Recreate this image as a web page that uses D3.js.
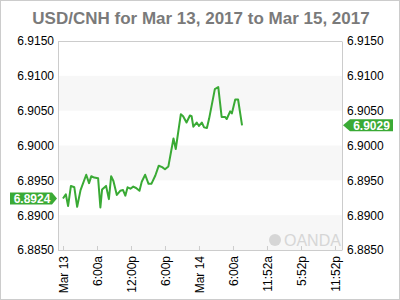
<!DOCTYPE html>
<html lang="en">
<head>
<meta charset="UTF-8">
<title>USD/CNH</title>
<script src="https://d3js.org/d3.v7.min.js"></script>
<style>
  body { margin: 0; background: #fff; }
  text { font-family: 'Liberation Sans', Arial, sans-serif; }
</style>
</head>
<body>
<script>
  const width = 400;
  const height = 300;

  // hours since Mar 13 00:00
  const hours = [0, 0.5, 0.9, 1.4, 2.0, 2.5, 3.1, 4.1, 4.6, 5.0, 5.5, 6.2, 6.6, 6.9, 7.6, 8.1, 8.5, 8.9,
                 9.5, 10.1, 10.6, 11.0, 11.4, 11.9, 12.4, 12.9, 13.5, 13.9, 14.5, 15.1, 15.6, 16.3, 16.9,
                 17.5, 18.0, 18.6, 19.5, 19.9, 20.8, 21.2, 21.8, 22.4, 22.7, 23.0, 23.6, 24.0, 24.5, 24.9,
                 25.4, 25.8, 26.8, 27.4, 28.0, 28.6, 28.9, 29.5, 29.8, 30.4, 30.9, 31.6];
  const prices = [6.8924, 6.8930, 6.8913, 6.8942, 6.8940, 6.8912, 6.8936, 6.8958, 6.8946, 6.8956, 6.8954,
                  6.8953, 6.8911, 6.8937, 6.8942, 6.8923, 6.8956, 6.8949, 6.8929, 6.8935, 6.8936, 6.8928,
                  6.8940, 6.8938, 6.8941, 6.8939, 6.8935, 6.8948, 6.8958, 6.8945, 6.8945, 6.8957, 6.8971,
                  6.8969, 6.8966, 6.8970, 6.9010, 6.8995, 6.9045, 6.9042, 6.9033, 6.9043, 6.9042, 6.9027,
                  6.9033, 6.9028, 6.9033, 6.9026, 6.9025, 6.9039, 6.9081, 6.9084, 6.9041, 6.9041, 6.9038,
                  6.9049, 6.9046, 6.9066, 6.9066, 6.9029];

  const yTicks = [6.8850, 6.8900, 6.8950, 6.9000, 6.9050, 6.9100, 6.9150];
  const xTickHours = [0, 6, 12, 18, 24, 30, 36, 42, 48];
  const xTickLabels = ["Mar 13", "6:00a", "12:00p", "6:00p", "Mar 14", "6:00a", "11:52a", "5:52p", "11:52p"];

  const openPrice = 6.8924;
  const lastPrice = 6.9029;

  const margin = {left: 58, right: 58, top: 41, bottom: 50};
  const green = "#3aaa35";

  const x = d3.scaleLinear().domain([-0.88, 49.24]).range([margin.left, width - margin.right]);
  const y = d3.scaleLinear().domain([6.885, 6.915]).range([height - margin.bottom, margin.top]);

  const svg = d3.select("body").append("svg").attr("width", width).attr("height", height);

  // outer frame
  svg.append("rect").attr("x", 0.5).attr("y", 0.5).attr("width", width - 1).attr("height", height - 1)
     .attr("fill", "none").attr("stroke", "#cccccc");

  svg.append("text")
     .attr("x", 201).attr("y", 24)
     .attr("text-anchor", "middle")
     .attr("font-size", "17px").attr("font-weight", "bold")
     .attr("fill", "#7a7a7a")
     .text("USD/CNH for Mar 13, 2017 to Mar 15, 2017");

  // alternating bands
  const bands = [[6.905, 6.910], [6.895, 6.900], [6.885, 6.890]];
  svg.selectAll("rect.band").data(bands).enter().append("rect")
     .attr("class", "band")
     .attr("x", margin.left).attr("width", x.range()[1] - margin.left)
     .attr("y", d => y(d[1])).attr("height", d => y(d[0]) - y(d[1]))
     .attr("fill", "#f7f7f7");

  // watermark
  const wm = svg.append("g").attr("fill", "#d6d6d6");
  wm.append("circle").attr("cx", 275).attr("cy", 240).attr("r", 6);
  wm.append("text").attr("x", 284).attr("y", 246).attr("font-size", "16px").text("OANDA");

  // plot frame
  const yAxisL = d3.axisLeft(y).tickValues(yTicks).tickFormat(d3.format(".4f")).tickSize(0).tickPadding(4);
  const yAxisR = d3.axisRight(y).tickValues(yTicks).tickFormat(d3.format(".4f")).tickSize(0).tickPadding(5);
  const xAxis = d3.axisBottom(x).tickValues(xTickHours).tickFormat((d, i) => xTickLabels[i]).tickSize(-4).tickPadding(6);

  const gx = svg.append("g").attr("transform", `translate(0,${y.range()[0]})`).call(xAxis);
  gx.selectAll("text")
    .attr("transform", "rotate(-90)")
    .attr("text-anchor", "end")
    .attr("x", -6).attr("y", 0).attr("dy", "0.35em");

  const gl = svg.append("g").attr("transform", `translate(${margin.left},0)`).call(yAxisL);
  const gr = svg.append("g").attr("transform", `translate(${x.range()[1]},0)`).call(yAxisR);

  svg.append("line").attr("x1", margin.left).attr("x2", x.range()[1])
     .attr("y1", margin.top + 0.5).attr("y2", margin.top + 0.5).attr("stroke", "#cccccc");

  [gx, gl, gr].forEach(g => {
    g.selectAll(".domain").attr("stroke", "#cccccc");
    g.selectAll(".tick line").attr("stroke", "#cccccc");
    g.selectAll("text").attr("font-size", "12px").attr("fill", "#000")
     .attr("font-family", "'Liberation Sans', Arial, sans-serif");
  });
  gx.select(".domain").remove();
  svg.append("line").attr("x1", margin.left).attr("x2", x.range()[1])
     .attr("y1", y.range()[0] + 0.5).attr("y2", y.range()[0] + 0.5).attr("stroke", "#cccccc");

  // price line
  const line = d3.line().x((d, i) => x(hours[i])).y(d => y(d));
  svg.append("path").datum(prices)
     .attr("d", line)
     .attr("fill", "none").attr("stroke", green).attr("stroke-width", 2)
     .attr("stroke-linejoin", "round");

  // price tags
  function tag(value, side) {
    const cy = y(value);
    const g = svg.append("g");
    let pts;
    if (side === "left") {
      const x1 = 10, x2 = 52, tip = 57;
      pts = [[x1, cy - 6], [x2, cy - 6], [tip, cy], [x2, cy + 6], [x1, cy + 6]];
      g.append("polygon").attr("points", pts.join(" ")).attr("fill", green);
      g.append("text").attr("x", (x1 + x2) / 2 + 1).attr("y", cy).attr("dy", "0.36em")
       .attr("text-anchor", "middle").attr("font-size", "12px").attr("font-weight", "bold")
       .attr("fill", "#fff").text(d3.format(".4f")(value));
    } else {
      const tip = 343, x1 = 350, x2 = 393;
      pts = [[tip, cy], [x1, cy - 6], [x2, cy - 6], [x2, cy + 6], [x1, cy + 6]];
      g.append("polygon").attr("points", pts.join(" ")).attr("fill", green);
      g.append("text").attr("x", (x1 + x2) / 2).attr("y", cy).attr("dy", "0.36em")
       .attr("text-anchor", "middle").attr("font-size", "12px").attr("font-weight", "bold")
       .attr("fill", "#fff").text(d3.format(".4f")(value));
    }
  }
  tag(openPrice, "left");
  tag(lastPrice, "right");
</script>
</body>
</html>
